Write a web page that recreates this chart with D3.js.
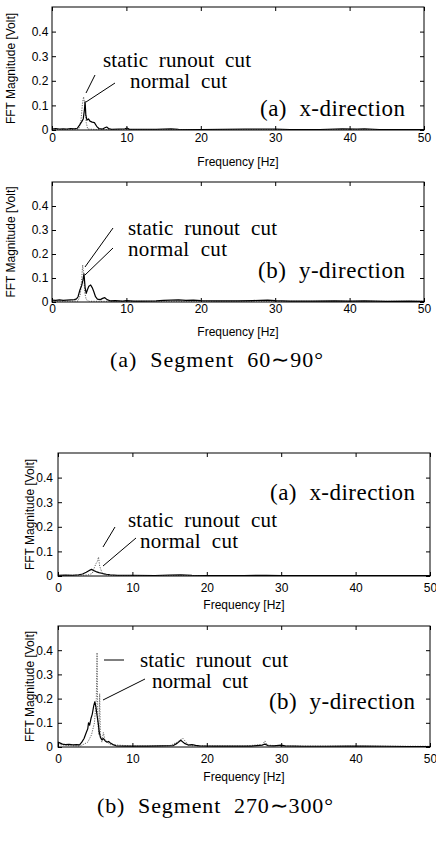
<!DOCTYPE html>
<html>
<head>
<meta charset="utf-8">
<script src="https://cdn.jsdelivr.net/npm/d3@7"></script>
<style>
  body { margin: 0; background: #fff; }
  svg text { white-space: pre; }
</style>
</head>
<body>
<div id="chart"></div>
<script>
// axis ticks
const xTicks = [0, 10, 20, 30, 40, 50];
const yTicks = [0, 0.1, 0.2, 0.3, 0.4];
const yTickLabels = ['0', '0.1', '0.2', '0.3', '0.4'];

// segment 60~90, x-direction
const f1Normal = [0, 0.5, 1, 1.5, 2, 2.5, 3, 3.4, 3.7, 4.0, 4.2, 4.35, 4.45, 4.55, 4.7, 4.9, 5.1, 5.4, 5.7, 6.0, 6.3, 6.8, 7.1, 7.35, 7.6, 8, 9, 9.8, 10.1, 10.4, 12, 14, 16, 17, 20, 23, 26, 28, 30, 32, 36, 39, 41, 42, 44, 47, 50];
const m1Normal = [0.004, 0.006, 0.004, 0.005, 0.004, 0.006, 0.005, 0.007, 0.02, 0.034, 0.045, 0.08, 0.115, 0.06, 0.04, 0.045, 0.036, 0.032, 0.03, 0.015, 0.006, 0.004, 0.009, 0.012, 0.006, 0.003, 0.004, 0.005, 0.008, 0.003, 0.003, 0.003, 0.005, 0.003, 0.002, 0.003, 0.004, 0.004, 0.004, 0.002, 0.002, 0.005, 0.004, 0.005, 0.002, 0.002, 0.002];
const f1Static = [0, 3, 3.6, 3.9, 4.1, 4.25, 4.4, 4.6, 4.8, 6, 10, 50];
const m1Static = [0.002, 0.002, 0.004, 0.04, 0.11, 0.135, 0.1, 0.03, 0.004, 0.002, 0.002, 0.002];

// segment 60~90, y-direction
const f2Normal = [0, 0.5, 1, 1.5, 2, 2.5, 3, 3.3, 3.5, 3.75, 4.0, 4.15, 4.3, 4.45, 4.6, 4.75, 4.95, 5.2, 5.4, 5.6, 5.85, 6.1, 6.5, 6.8, 7.1, 7.4, 7.8, 8.5, 9.5, 10, 11, 12, 14, 15, 16, 17, 18, 19, 20, 22, 25, 27, 28, 29, 30, 32, 35, 38, 40, 42, 45, 48, 50];
const m2Normal = [0.008, 0.007, 0.009, 0.007, 0.008, 0.009, 0.01, 0.013, 0.022, 0.05, 0.07, 0.09, 0.117, 0.06, 0.036, 0.05, 0.066, 0.071, 0.06, 0.045, 0.022, 0.012, 0.01, 0.015, 0.018, 0.01, 0.005, 0.006, 0.004, 0.006, 0.004, 0.004, 0.005, 0.007, 0.008, 0.009, 0.007, 0.008, 0.006, 0.005, 0.005, 0.006, 0.007, 0.008, 0.006, 0.004, 0.004, 0.005, 0.004, 0.005, 0.003, 0.004, 0.003];
const f2Static = [0, 3.5, 3.8, 4.0, 4.12, 4.25, 4.4, 4.6, 5, 50];
const m2Static = [0.003, 0.004, 0.03, 0.1, 0.154, 0.12, 0.04, 0.01, 0.003, 0.003];

// segment 270~300, x-direction
const f3Normal = [0, 1, 2, 2.8, 3.3, 3.8, 4.2, 4.5, 4.8, 5.1, 5.5, 6, 6.5, 7, 8, 10, 13, 15, 16.5, 18, 20, 25, 28, 30, 35, 40, 45, 50];
const m3Normal = [0.003, 0.004, 0.003, 0.005, 0.008, 0.015, 0.022, 0.027, 0.022, 0.018, 0.014, 0.01, 0.007, 0.005, 0.003, 0.003, 0.002, 0.004, 0.005, 0.003, 0.002, 0.002, 0.003, 0.002, 0.002, 0.002, 0.002, 0.002];
const f3Static = [0, 4, 4.6, 4.9, 5.1, 5.3, 5.45, 5.6, 5.9, 6.3, 7, 50];
const m3Static = [0.002, 0.004, 0.01, 0.035, 0.05, 0.06, 0.077, 0.04, 0.015, 0.005, 0.002, 0.002];

// segment 270~300, y-direction
const f4Normal = [0, 0.3, 0.6, 1, 1.5, 2, 2.5, 2.9, 3.2, 3.5, 3.8, 4.0, 4.1, 4.25, 4.45, 4.6, 4.8, 4.95, 5.1, 5.25, 5.4, 5.55, 5.7, 5.9, 6.1, 6.35, 6.6, 6.8, 7.1, 7.4, 7.8, 9, 10, 12, 14, 15.5, 16, 16.5, 17, 17.5, 18, 18.5, 19, 21, 24, 26, 27.5, 27.8, 28.2, 29, 30, 30.5, 33, 36, 39, 41, 44, 47, 50];
const m4Normal = [0.02, 0.016, 0.012, 0.01, 0.011, 0.009, 0.01, 0.009, 0.02, 0.035, 0.06, 0.075, 0.1, 0.09, 0.12, 0.135, 0.17, 0.187, 0.165, 0.13, 0.1, 0.06, 0.04, 0.03, 0.035, 0.025, 0.02, 0.023, 0.015, 0.01, 0.005, 0.004, 0.004, 0.004, 0.005, 0.006, 0.015, 0.028, 0.015, 0.008, 0.01, 0.007, 0.005, 0.004, 0.004, 0.004, 0.008, 0.012, 0.006, 0.005, 0.008, 0.005, 0.003, 0.003, 0.004, 0.004, 0.003, 0.002, 0.002];
const f4Static = [0, 2, 3, 4.0, 4.5, 4.9, 5.15, 5.25, 5.35, 5.5, 5.6, 5.7, 5.9, 6.1, 6.3, 7, 10, 15, 16, 16.8, 17.4, 18, 25, 27.5, 27.8, 28.1, 30, 50];
const m4Static = [0.01, 0.005, 0.004, 0.02, 0.05, 0.1, 0.2, 0.39, 0.1, 0.05, 0.22, 0.05, 0.02, 0.06, 0.03, 0.01, 0.004, 0.005, 0.02, 0.036, 0.012, 0.005, 0.004, 0.01, 0.025, 0.008, 0.004, 0.003];

const panelTitles = ['(a)  x-direction', '(b)  y-direction', '(a)  x-direction', '(b)  y-direction'];
const captions = ['(a)  Segment  60\u223C90\u00B0', '(b)  Segment  270\u223C300\u00B0'];

const width = 436;
const height = 862;

const svg = d3.select('#chart')
  .append('svg')
  .attr('width', width)
  .attr('height', height);

// layout of each panel (pixels)
const panels = [
  { l: 52, r: 424, t: 7, b: 130, xPad: 3.5, yPad: 3.7, yLabX: 11, freqY: 166,
    fn: f1Normal, mn: m1Normal, fs: f1Static, ms: m1Static,
    title: [260, 116, 145], stat: [103, 67, 148], norm: [130, 88, 97],
    leaders: [[95, 75, 86, 93], [115, 83, 86, 102]] },
  { l: 52, r: 424, t: 182, b: 302, xPad: 2.5, yPad: 3.7, yLabX: 11, freqY: 336,
    fn: f2Normal, mn: m2Normal, fs: f2Static, ms: m2Static,
    title: [258, 278, 147], stat: [128, 235, 149], norm: [128, 256, 99],
    leaders: [[113, 228, 85, 267], [113, 248, 85, 275]] },
  { l: 58, r: 430, t: 453, b: 576, xPad: 7.5, yPad: 5, yLabX: 30, freqY: 609,
    fn: f3Normal, mn: m3Normal, fs: f3Static, ms: m3Static,
    title: [270, 500, 145], stat: [128, 527, 149], norm: [140, 548, 98],
    leaders: [[115, 527, 103, 547], [136, 538, 103, 566]] },
  { l: 58, r: 430, t: 626, b: 747, xPad: 7.5, yPad: 5, yLabX: 30, freqY: 781,
    fn: f4Normal, mn: m4Normal, fs: f4Static, ms: m4Static,
    title: [269, 709, 146], stat: [140, 667, 148], norm: [152, 688, 96],
    leaders: [[104, 660, 124, 660], [145, 679, 103, 700]] }
];

const sans = "'Liberation Sans', Arial, sans-serif";
const serif = "'Liberation Serif', 'Times New Roman', serif";

panels.forEach((p, i) => {
  const x = d3.scaleLinear().domain([0, 50]).range([p.l, p.r]);
  const y = d3.scaleLinear().domain([0, 0.5]).range([p.b, p.t]);

  const g = svg.append('g').attr('class', 'panel');

  // static runout cut (dotted)
  const line = d3.line().x(d => x(d[0])).y(d => y(d[1]));
  g.append('path')
    .attr('d', line(d3.zip(p.fs, p.ms)))
    .attr('fill', 'none')
    .attr('stroke', '#666')
    .attr('stroke-width', 1)
    .attr('stroke-dasharray', '1.2 1.3');

  // normal cut (solid)
  g.append('path')
    .attr('d', line(d3.zip(p.fn, p.mn)))
    .attr('fill', 'none')
    .attr('stroke', '#000')
    .attr('stroke-width', 1.2)
    .attr('stroke-linejoin', 'round');

  // axes, ticks pointing inward like matlab
  g.append('g')
    .attr('transform', `translate(0,${p.b})`)
    .call(d3.axisBottom(x).tickValues(xTicks).tickSizeInner(-4).tickSizeOuter(0).tickPadding(p.xPad));
  g.append('g')
    .attr('transform', `translate(0,${p.t})`)
    .call(d3.axisTop(x).tickValues(xTicks).tickSizeInner(-4).tickSizeOuter(0).tickFormat(''));
  g.append('g')
    .attr('transform', `translate(${p.l},0)`)
    .call(d3.axisLeft(y).tickValues(yTicks).tickSizeInner(-4).tickSizeOuter(0).tickPadding(p.yPad)
      .tickFormat((d, k) => yTickLabels[k]));
  g.append('g')
    .attr('transform', `translate(${p.r},0)`)
    .call(d3.axisRight(y).tickValues(yTicks).tickSizeInner(-4).tickSizeOuter(0).tickFormat(''));

  g.selectAll('.domain').remove();
  g.selectAll('.tick line').attr('stroke', '#000');
  g.selectAll('.tick text')
    .attr('font-family', sans)
    .attr('font-size', 12)
    .attr('fill', '#000');

  g.append('rect')
    .attr('x', p.l).attr('y', p.t)
    .attr('width', p.r - p.l).attr('height', p.b - p.t)
    .attr('fill', 'none')
    .attr('stroke', '#000')
    .attr('stroke-width', 1);

  // axis titles
  g.append('text')
    .attr('x', (p.l + p.r) / 2)
    .attr('y', p.freqY)
    .attr('text-anchor', 'middle')
    .attr('font-family', sans)
    .attr('font-size', 12)
    .text('Frequency [Hz]');

  g.append('text')
    .attr('transform', `translate(${p.yLabX + 4},${(p.t + p.b) / 2}) rotate(-90)`)
    .attr('text-anchor', 'middle')
    .attr('font-family', sans)
    .attr('font-size', 12)
    .text('FFT Magnitude [Volt]');

  // annotations
  const label = (pos, txt, size) => g.append('text')
    .attr('x', pos[0]).attr('y', pos[1])
    .attr('textLength', pos[2])
    .attr('lengthAdjust', 'spacing')
    .attr('font-family', serif)
    .attr('font-size', size)
    .text(txt);

  label(p.title, panelTitles[i], 23);
  label(p.stat, 'static  runout  cut', 21);
  label(p.norm, 'normal  cut', 21);

  g.selectAll('.leader')
    .data(p.leaders)
    .enter()
    .append('line')
    .attr('x1', d => d[0]).attr('y1', d => d[1])
    .attr('x2', d => d[2]).attr('y2', d => d[3])
    .attr('stroke', '#000')
    .attr('stroke-width', 1);
});

// figure captions
const capPos = [[110, 367, 213], [97, 813, 236]];
svg.selectAll('.caption')
  .data(captions)
  .enter()
  .append('text')
  .attr('x', (d, i) => capPos[i][0])
  .attr('y', (d, i) => capPos[i][1])
  .attr('textLength', (d, i) => capPos[i][2])
  .attr('lengthAdjust', 'spacing')
  .attr('font-family', serif)
  .attr('font-size', 22)
  .text(d => d);
</script>
</body>
</html>
